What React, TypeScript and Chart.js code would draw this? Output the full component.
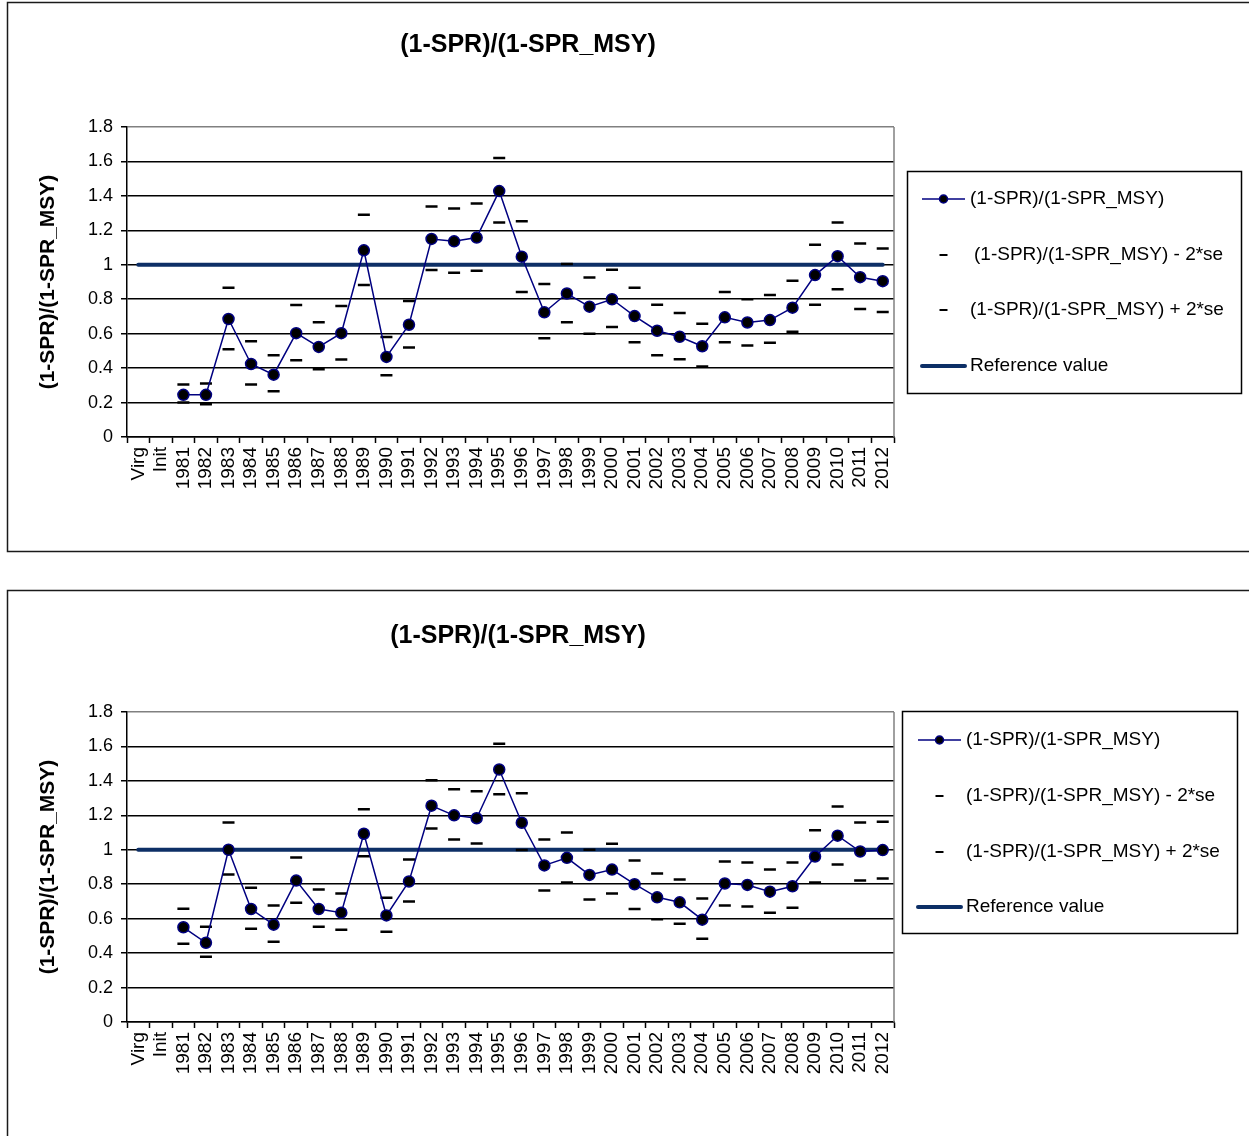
import React, { useEffect, useRef } from 'react';
import { Chart, registerables } from 'chart.js';

Chart.register(...registerables);

const categories = ['Virg', 'Init', '1981', '1982', '1983', '1984', '1985', '1986', '1987', '1988', '1989', '1990', '1991', '1992', '1993', '1994', '1995', '1996', '1997', '1998', '1999', '2000', '2001', '2002', '2003', '2004', '2005', '2006', '2007', '2008', '2009', '2010', '2011', '2012'];
const yTickLabels = ['0', '0.2', '0.4', '0.6', '0.8', '1', '1.2', '1.4', '1.6', '1.8'];
const chartTitle = '(1-SPR)/(1-SPR_MSY)';
const yAxisTitle = '(1-SPR)/(1-SPR_MSY)';
const legendLabels = ['(1-SPR)/(1-SPR_MSY)', '(1-SPR)/(1-SPR_MSY) - 2*se', '(1-SPR)/(1-SPR_MSY) + 2*se', 'Reference value'];
const referenceValue = 1;

// Top chart
const ratioTop = [null, null, 0.245, 0.245, 0.685, 0.424, 0.362, 0.603, 0.523, 0.603, 1.084, 0.465, 0.652, 1.15, 1.136, 1.158, 1.428, 1.047, 0.724, 0.833, 0.757, 0.8, 0.702, 0.617, 0.582, 0.527, 0.695, 0.665, 0.679, 0.751, 0.94, 1.05, 0.928, 0.905];
const lowerTop = [null, null, 0.2, 0.19, 0.51, 0.305, 0.265, 0.446, 0.393, 0.45, 0.883, 0.358, 0.52, 0.97, 0.953, 0.965, 1.245, 0.842, 0.574, 0.667, 0.6, 0.638, 0.55, 0.475, 0.451, 0.41, 0.55, 0.531, 0.547, 0.611, 0.768, 0.858, 0.743, 0.726];
const upperTop = [null, null, 0.305, 0.31, 0.866, 0.556, 0.475, 0.767, 0.667, 0.76, 1.29, 0.58, 0.79, 1.338, 1.327, 1.356, 1.62, 1.253, 0.889, 1.004, 0.926, 0.971, 0.866, 0.768, 0.72, 0.658, 0.842, 0.8, 0.825, 0.907, 1.117, 1.245, 1.123, 1.095];

// Bottom chart
const ratioBottom = [null, null, 0.55, 0.46, 1.0, 0.656, 0.565, 0.821, 0.656, 0.635, 1.093, 0.619, 0.816, 1.256, 1.2, 1.183, 1.466, 1.157, 0.909, 0.953, 0.854, 0.885, 0.8, 0.724, 0.695, 0.594, 0.804, 0.796, 0.757, 0.788, 0.961, 1.082, 0.99, 0.998];
const lowerBottom = [null, null, 0.454, 0.379, 0.856, 0.542, 0.466, 0.693, 0.553, 0.536, 0.963, 0.524, 0.699, 1.124, 1.06, 1.037, 1.322, 0.998, 0.763, 0.81, 0.711, 0.746, 0.656, 0.596, 0.571, 0.483, 0.676, 0.67, 0.635, 0.664, 0.81, 0.915, 0.821, 0.833];
const upperBottom = [null, null, 0.658, 0.553, 1.159, 0.78, 0.676, 0.955, 0.769, 0.746, 1.235, 0.722, 0.944, 1.404, 1.351, 1.34, 1.616, 1.328, 1.06, 1.101, 1.0, 1.035, 0.938, 0.862, 0.827, 0.717, 0.932, 0.926, 0.885, 0.926, 1.113, 1.252, 1.159, 1.163];

const FONT = '"Liberation Sans", Arial, sans-serif';
const NAVY = '#000080';
const REF = '#0d2f66';

type Layout = {
  canvasTop: number;
  canvasH: number;
  plotTop: number;
  plotBottom: number;
  frameTop: number;
  frameBottom: number | null;
  titleX: number;
  titleY: number;
  legend: { x1: number; y1: number; x2: number; y2: number; rows: number[]; lineX1: number; lineX2: number; textX: number[] };
};

function makeDecor(L: Layout) {
  return {
    id: 'decor',
    afterDraw(chart: any) {
      const ctx = chart.ctx as CanvasRenderingContext2D;
      const a = chart.chartArea;
      ctx.save();
      // gray right border of plot
      ctx.strokeStyle = '#808080';
      ctx.lineWidth = 1.5;
      ctx.beginPath();
      ctx.moveTo(a.right, a.top);
      ctx.lineTo(a.right, a.bottom);
      ctx.stroke();
      // outer frame
      ctx.strokeStyle = '#1a1a1a';
      ctx.lineWidth = 1.5;
      ctx.beginPath();
      ctx.moveTo(1260, L.frameTop);
      ctx.lineTo(7.5, L.frameTop);
      if (L.frameBottom !== null) {
        ctx.lineTo(7.5, L.frameBottom);
        ctx.lineTo(1260, L.frameBottom);
      } else {
        ctx.lineTo(7.5, L.canvasH + 5);
      }
      ctx.stroke();
      // title
      ctx.fillStyle = '#000';
      ctx.font = `bold 25px ${FONT}`;
      ctx.textAlign = 'center';
      ctx.textBaseline = 'middle';
      ctx.fillText(chartTitle, L.titleX, L.titleY);
      // y title
      ctx.save();
      ctx.translate(48, (a.top + a.bottom) / 2);
      ctx.rotate(-Math.PI / 2);
      ctx.font = `bold 21px ${FONT}`;
      ctx.fillText(yAxisTitle, 0, 0);
      ctx.restore();
      // legend
      const lg = L.legend;
      ctx.strokeStyle = '#000';
      ctx.lineWidth = 1.5;
      ctx.strokeRect(lg.x1, lg.y1, lg.x2 - lg.x1, lg.y2 - lg.y1);
      const mid = (lg.lineX1 + lg.lineX2) / 2;
      // entry 1: line with marker
      ctx.strokeStyle = NAVY;
      ctx.lineWidth = 1.5;
      ctx.beginPath();
      ctx.moveTo(lg.lineX1, lg.rows[0]);
      ctx.lineTo(lg.lineX2, lg.rows[0]);
      ctx.stroke();
      ctx.beginPath();
      ctx.arc(mid, lg.rows[0], 4, 0, Math.PI * 2);
      ctx.fillStyle = '#000';
      ctx.fill();
      ctx.stroke();
      // entries 2,3: dashes
      ctx.strokeStyle = '#000';
      ctx.lineWidth = 2;
      [1, 2].forEach((i) => {
        ctx.beginPath();
        ctx.moveTo(mid - 4, lg.rows[i]);
        ctx.lineTo(mid + 4, lg.rows[i]);
        ctx.stroke();
      });
      // entry 4: thick line
      ctx.strokeStyle = REF;
      ctx.lineWidth = 4;
      ctx.lineCap = 'round';
      ctx.beginPath();
      ctx.moveTo(lg.lineX1, lg.rows[3]);
      ctx.lineTo(lg.lineX2, lg.rows[3]);
      ctx.stroke();
      // texts
      ctx.fillStyle = '#000';
      ctx.font = `19px ${FONT}`;
      ctx.textAlign = 'left';
      ctx.textBaseline = 'middle';
      legendLabels.forEach((t, i) => ctx.fillText(t, lg.textX[i], lg.rows[i]));
      ctx.restore();
    },
  };
}

function RatioChart({ ratio, lower, upper, L }: { ratio: (number | null)[]; lower: (number | null)[]; upper: (number | null)[]; L: Layout }) {
  const ref = useRef<HTMLCanvasElement | null>(null);
  useEffect(() => {
    if (!ref.current) return;
    const xHeight = L.canvasH - L.plotBottom;
    const chart = new Chart(ref.current, {
      type: 'line',
      data: {
        labels: categories,
        datasets: [
          {
            label: legendLabels[0],
            data: ratio,
            borderColor: NAVY,
            borderWidth: 1.5,
            pointRadius: 5.5,
            pointBackgroundColor: '#000',
            pointBorderColor: NAVY,
            pointBorderWidth: 1.5,
            tension: 0,
            spanGaps: false,
          },
          {
            label: legendLabels[1],
            data: lower,
            showLine: false,
            pointStyle: 'line',
            pointRadius: 6,
            pointBorderColor: '#000',
            pointBorderWidth: 2.5,
            borderColor: '#000',
          },
          {
            label: legendLabels[2],
            data: upper,
            showLine: false,
            pointStyle: 'line',
            pointRadius: 6,
            pointBorderColor: '#000',
            pointBorderWidth: 2.5,
            borderColor: '#000',
          },
          {
            label: legendLabels[3],
            data: categories.map(() => referenceValue),
            borderColor: REF,
            borderWidth: 4,
            pointRadius: 0,
            borderCapStyle: 'round',
          },
        ],
      } as any,
      options: {
        responsive: false,
        animation: false,
        events: [],
        layout: { padding: { top: L.plotTop, right: 1249 - 894, left: 0, bottom: 0 } },
        plugins: { legend: { display: false }, tooltip: { enabled: false }, title: { display: false } },
        scales: {
          x: {
            offset: true,
            grid: { offset: true, drawOnChartArea: false, drawTicks: true, tickLength: 6, tickColor: '#000', tickWidth: 1.5 },
            border: { color: '#000', width: 1.5 },
            ticks: { autoSkip: false, minRotation: 90, maxRotation: 90, color: '#000', padding: 4, font: { size: 19, family: FONT } },
            afterFit: (s: any) => { s.height = xHeight; },
          },
          y: {
            min: 0,
            max: 1.8,
            ticks: {
              stepSize: 0.2,
              color: '#000',
              padding: 8,
              font: { size: 18, family: FONT },
              callback: (v: any) => yTickLabels[Math.round(Number(v) / 0.2)],
            },
            grid: {
              color: (c: any) => (c.tick && Math.abs(c.tick.value - 1.8) < 1e-6 ? '#808080' : '#000'),
              lineWidth: 1.5,
              tickLength: 6,
              tickColor: '#000',
            },
            border: { color: '#000', width: 1.5 },
            afterFit: (s: any) => { s.width = 127; },
          },
        },
      } as any,
      plugins: [makeDecor(L)],
    });
    return () => chart.destroy();
  }, []);
  return (
    <canvas
      ref={ref}
      width={1249}
      height={L.canvasH}
      style={{ position: 'absolute', left: 0, top: L.canvasTop, width: 1249, height: L.canvasH, display: 'block' }}
    />
  );
}

const layoutTop: Layout = {
  canvasTop: 0,
  canvasH: 570,
  plotTop: 127,
  plotBottom: 437,
  frameTop: 2.5,
  frameBottom: 551.5,
  titleX: 528,
  titleY: 45,
  legend: { x1: 907.5, y1: 171.5, x2: 1241.5, y2: 393.5, rows: [199, 255, 310, 366], lineX1: 922, lineX2: 965, textX: [970, 974, 970, 970] },
};

const layoutBottom: Layout = {
  canvasTop: 575,
  canvasH: 561,
  plotTop: 137,
  plotBottom: 447,
  frameTop: 15.5,
  frameBottom: null,
  titleX: 518,
  titleY: 61,
  legend: { x1: 902.5, y1: 136.5, x2: 1237.5, y2: 358.5, rows: [165, 221, 277, 332], lineX1: 918, lineX2: 961, textX: [966, 966, 966, 966] },
};

export default function App() {
  return (
    <div style={{ position: 'absolute', left: 0, top: 0, width: 1249, height: 1136, background: '#fff', overflow: 'hidden' }}>
      <RatioChart ratio={ratioTop} lower={lowerTop} upper={upperTop} L={layoutTop} />
      <RatioChart ratio={ratioBottom} lower={lowerBottom} upper={upperBottom} L={layoutBottom} />
    </div>
  );
}
